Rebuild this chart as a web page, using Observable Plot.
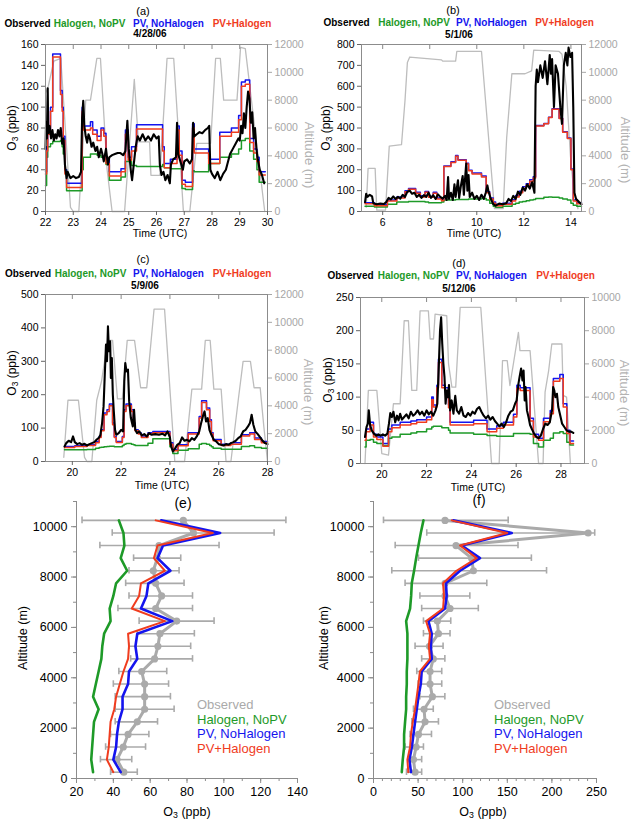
<!DOCTYPE html>
<html><head><meta charset="utf-8">
<script src="https://cdn.jsdelivr.net/npm/d3@7"></script>
<script src="https://cdn.jsdelivr.net/npm/@observablehq/plot@0.6"></script>
<style>
body{margin:0;background:#fff;}
#root{position:relative;width:632px;height:829px;overflow:hidden;font-family:"Liberation Sans",Arial,sans-serif;background:#fff;}
.abs{position:absolute;white-space:nowrap;line-height:1;}
.box{position:absolute;}
sub{font-size:70%;vertical-align:-0.25em;line-height:0;}
</style></head><body><div id="root"></div>
<script>
// ---------- legend / labels ----------
const seriesNames = ["Observed", "Halogen, NoPV", "PV, NoHalogen", "PV+Halogen"];
const dates = ["4/28/06", "5/1/06", "5/9/06", "5/12/06"];

// ---------- panel (a) 4/28/06 ----------
const aAltT = [22.0, 22.1, 22.3, 22.55, 22.9, 23.0, 23.2, 23.45, 23.62, 23.85, 23.98, 24.22, 24.4, 24.85, 25.2, 25.35, 25.75, 25.8, 26.12, 26.38, 26.62, 26.97, 27.2, 27.45, 27.95, 28.13, 28.3, 28.42, 28.9, 29.03, 29.2, 29.9];
const aAlt = [8500, 9000, 10800, 11000, 300, 0, 0, 8000, 8000, 11000, 11000, 3000, 0, 0, 9500, 5000, 5000, 2600, 2600, 11000, 11000, 0, 0, 4900, 4900, 11000, 11000, 8000, 8000, 11800, 11700, 0];
const aModT = [22.00, 22.04, 22.08, 22.18, 22.26, 22.54, 22.60, 22.64, 22.70, 22.76, 23.32, 23.36, 23.62, 23.70, 23.86, 24.00, 24.10, 24.18, 24.30, 24.72, 24.88, 24.98, 25.10, 25.28, 26.22, 26.28, 26.50, 26.74, 26.82, 26.92, 27.04, 27.30, 27.36, 27.88, 28.28, 28.70, 28.96, 29.06, 29.20, 29.36, 29.50, 29.62, 29.70, 29.92];
const aGreen = [25, 52, 62, 65, 67, 68, 62, 55, 40, 20, 40, 52, 55, 55, 54, 52, 50, 45, 30, 33, 48, 48, 44, 43, 45, 42, 41, 41, 41, 22, 21, 39, 38, 46, 52, 55, 60, 68, 70, 58, 50, 40, 28, 28];
const aBlue = [38, 62, 78, 100, 151, 116, 100, 72, 40, 27, 100, 82, 86, 78, 72, 80, 75, 50, 38, 41, 78, 52, 62, 83, 62, 46, 50, 82, 58, 30, 28, 84, 60, 50, 76, 80, 92, 124, 126, 70, 60, 52, 38, 38];
const aRed = [36, 58, 74, 96, 148, 112, 96, 68, 36, 23, 96, 78, 80, 74, 68, 78, 72, 46, 34, 38, 74, 49, 58, 79, 58, 42, 46, 78, 54, 26, 24, 80, 56, 46, 72, 76, 88, 120, 122, 66, 56, 48, 35, 35];
const aObsT = [22.00, 22.02, 22.05, 22.08, 22.10, 22.15, 22.20, 22.25, 22.30, 22.35, 22.40, 22.45, 22.50, 22.55, 22.60, 22.65, 22.70, 22.76, 22.80, 22.90, 23.00, 23.10, 23.20, 23.28, 23.32, 23.36, 23.40, 23.45, 23.50, 23.55, 23.60, 23.66, 23.72, 23.80, 23.86, 23.92, 24.00, 24.05, 24.10, 24.18, 24.25, 24.30, 24.40, 24.50, 24.60, 24.70, 24.80, 24.88, 24.95, 25.00, 25.08, 25.12, 25.18, 25.25, 25.32, 25.40, 25.50, 25.60, 25.70, 25.80, 25.90, 26.00, 26.08, 26.12, 26.18, 26.25, 26.32, 26.40, 26.48, 26.52, 26.60, 26.70, 26.74, 26.78, 26.86, 26.95, 27.00, 27.10, 27.20, 27.28, 27.32, 27.36, 27.45, 27.55, 27.65, 27.75, 27.85, 27.90, 27.94, 28.00, 28.10, 28.20, 28.30, 28.40, 28.50, 28.55, 28.65, 28.75, 28.85, 28.95, 29.00, 29.05, 29.10, 29.15, 29.20, 29.25, 29.30, 29.35, 29.40, 29.45, 29.50, 29.55, 29.60, 29.65, 29.72, 29.80, 29.88];
const aObs = [60, 85, 70, 118, 75, 82, 70, 78, 68, 74, 70, 78, 72, 80, 65, 70, 45, 32, 38, 32, 34, 32, 33, 38, 90, 106, 82, 72, 66, 74, 70, 62, 66, 58, 62, 52, 60, 55, 48, 60, 45, 52, 54, 55, 56, 56, 54, 58, 87, 60, 38, 30, 45, 62, 72, 68, 74, 68, 72, 68, 74, 70, 72, 45, 35, 38, 30, 35, 27, 45, 50, 52, 85, 55, 48, 40, 48, 50, 46, 50, 85, 72, 74, 76, 75, 78, 80, 82, 40, 36, 32, 38, 30, 36, 40, 45, 55, 60, 65, 70, 68, 82, 75, 94, 80, 100, 115, 108, 85, 95, 70, 80, 60, 50, 40, 35, 27];

// ---------- panel (b) 5/1/06 ----------
const bAltT = [5.3, 5.38, 5.68, 5.75, 6.12, 6.28, 6.8, 6.95, 7.05, 7.15, 8.5, 8.55, 9.1, 9.15, 10.2, 10.75, 11.12, 11.27, 11.49, 12.05, 12.33, 12.42, 13.5, 13.62, 13.8, 13.98, 14.12, 14.3];
const bAlt = [300, 3100, 3100, 100, 100, 4700, 4800, 8000, 10700, 11100, 10900, 10800, 10800, 11500, 11500, 200, 200, 5300, 9900, 9900, 10100, 11600, 11500, 11300, 9000, 4000, 1500, 200];
const bModT = [5.25, 5.65, 6.2, 6.6, 6.95, 7.1, 7.4, 7.6, 7.8, 7.95, 8.15, 8.3, 8.5, 8.6, 8.9, 9.1, 9.2, 9.55, 9.65, 9.8, 10.2, 10.4, 10.55, 10.7, 10.8, 11.1, 11.5, 11.65, 11.8, 11.95, 12.1, 12.25, 12.4, 12.5, 12.85, 13.05, 13.2, 13.5, 13.65, 13.85, 14.0, 14.1, 14.25, 14.45];
const bGreen = [25, 22, 35, 45, 45, 48, 48, 48, 45, 42, 42, 42, 45, 55, 55, 58, 58, 58, 60, 60, 62, 55, 40, 25, 20, 25, 35, 40, 45, 48, 52, 55, 58, 62, 68, 70, 68, 65, 60, 55, 40, 30, 25, 25];
const bBlue = [42, 32, 55, 70, 100, 110, 92, 75, 96, 72, 92, 65, 57, 218, 238, 268, 248, 231, 198, 184, 170, 95, 65, 45, 33, 40, 56, 77, 97, 118, 133, 152, 166, 412, 422, 452, 492, 447, 382, 352, 204, 55, 42, 42];
const bRed = [37, 27, 50, 65, 95, 106, 88, 70, 92, 68, 88, 60, 52, 215, 235, 265, 245, 228, 195, 180, 165, 90, 60, 40, 28, 35, 50, 70, 90, 110, 125, 145, 160, 410, 420, 450, 490, 445, 380, 350, 200, 50, 37, 37];
const bObsT = [5.25, 5.3, 5.35, 5.45, 5.55, 5.6, 5.75, 5.9, 6.05, 6.15, 6.25, 6.35, 6.45, 6.55, 6.65, 6.75, 6.85, 6.95, 7.05, 7.15, 7.25, 7.35, 7.45, 7.55, 7.65, 7.75, 7.85, 7.95, 8.05, 8.15, 8.25, 8.35, 8.45, 8.55, 8.65, 8.72, 8.78, 8.82, 8.9, 8.98, 9.05, 9.1, 9.2, 9.25, 9.32, 9.4, 9.45, 9.55, 9.6, 9.65, 9.7, 9.8, 9.9, 10.0, 10.1, 10.2, 10.3, 10.38, 10.45, 10.5, 10.6, 10.7, 10.8, 10.95, 11.1, 11.25, 11.35, 11.45, 11.55, 11.65, 11.75, 11.85, 11.95, 12.05, 12.15, 12.25, 12.35, 12.45, 12.5, 12.55, 12.6, 12.7, 12.8, 12.9, 13.0, 13.1, 13.15, 13.2, 13.28, 13.35, 13.45, 13.55, 13.62, 13.7, 13.78, 13.85, 13.9, 13.98, 14.05, 14.1, 14.15, 14.22, 14.35, 14.45];
const bObs = [45, 85, 70, 80, 72, 40, 35, 38, 36, 45, 65, 58, 72, 60, 70, 62, 80, 70, 95, 100, 85, 90, 70, 80, 65, 78, 70, 90, 65, 78, 60, 82, 70, 62, 75, 55, 165, 60, 90, 55, 130, 70, 150, 65, 120, 170, 80, 230, 100, 175, 70, 90, 60, 75, 55, 80, 60, 90, 125, 95, 60, 35, 28, 38, 35, 40, 60, 50, 75, 60, 95, 80, 115, 100, 130, 110, 140, 90, 600, 680, 620, 700, 640, 720, 610, 750, 660, 730, 500, 700, 660, 500, 420, 700, 760, 700, 785, 740, 760, 500, 90, 60, 45, 35];

// ---------- panel (c) 5/9/06 ----------
const cAltT = [19.65, 19.82, 20.25, 20.5, 20.6, 20.8, 21.0, 21.2, 21.45, 21.65, 21.85, 22.05, 22.25, 22.55, 22.8, 23.05, 23.35, 23.78, 24.2, 24.6, 24.9, 25.3, 25.45, 25.65, 25.8, 26.1, 26.3, 26.5, 26.8, 27.0, 27.3, 27.45, 27.7, 27.85, 28.0];
const cAlt = [300, 4400, 4400, 300, 0, 0, 4400, 5800, 8700, 8700, 4500, 4500, 8700, 8700, 5300, 5300, 10950, 10950, 0, 0, 5200, 5200, 8700, 8700, 5200, 5200, 0, 0, 4400, 7200, 7200, 5300, 5300, 2500, 0];
const cModT = [19.68, 20.1, 20.6, 20.95, 21.1, 21.18, 21.3, 21.42, 21.52, 21.65, 21.72, 21.8, 22.05, 22.12, 22.2, 22.42, 22.5, 22.57, 22.7, 22.83, 23.1, 23.3, 24.0, 24.12, 24.33, 24.75, 25.2, 25.3, 25.5, 25.63, 25.7, 25.77, 26.1, 26.5, 26.93, 27.27, 27.47, 27.75, 28.0];
const cGreen = [35, 35, 36, 40, 42, 43, 44, 45, 46, 46, 44, 44, 48, 52, 54, 52, 50, 48, 48, 48, 55, 68, 44, 24, 34, 38, 52, 54, 52, 48, 44, 40, 37, 37, 45, 47, 42, 40, 40];
const cBlue = [45, 47, 50, 60, 75, 95, 145, 155, 172, 115, 75, 60, 75, 155, 172, 155, 115, 95, 85, 76, 86, 90, 56, 36, 50, 86, 135, 182, 160, 125, 86, 66, 52, 56, 80, 86, 70, 60, 60];
const cRed = [42, 45, 48, 56, 72, 92, 140, 150, 167, 110, 72, 57, 72, 150, 167, 150, 110, 92, 82, 72, 82, 86, 52, 32, 47, 82, 130, 177, 155, 120, 82, 62, 48, 52, 76, 82, 66, 56, 56];
const cObsT = [19.68, 19.75, 19.85, 19.95, 20.03, 20.1, 20.2, 20.3, 20.4, 20.5, 20.6, 20.7, 20.8, 20.9, 21.0, 21.1, 21.15, 21.22, 21.28, 21.33, 21.38, 21.42, 21.46, 21.5, 21.55, 21.58, 21.62, 21.66, 21.7, 21.75, 21.8, 21.9, 22.0, 22.08, 22.13, 22.17, 22.22, 22.28, 22.33, 22.4, 22.48, 22.53, 22.58, 22.65, 22.75, 22.85, 22.95, 23.05, 23.15, 23.25, 23.4, 23.55, 23.7, 23.8, 23.9, 24.0, 24.05, 24.12, 24.22, 24.3, 24.4, 24.5, 24.6, 24.7, 24.8, 24.9, 25.0, 25.1, 25.2, 25.28, 25.35, 25.42, 25.48, 25.55, 25.62, 25.7, 25.8, 25.9, 26.0, 26.1, 26.2, 26.3, 26.4, 26.5, 26.6, 26.7, 26.8, 26.9, 27.0, 27.1, 27.2, 27.28, 27.35, 27.42, 27.5, 27.6, 27.7, 27.8, 27.9, 28.0];
const cObs = [45, 55, 62, 58, 75, 58, 52, 55, 50, 53, 48, 52, 55, 58, 66, 72, 80, 115, 165, 260, 350, 300, 405, 330, 360, 250, 310, 200, 150, 95, 80, 85, 95, 90, 240, 295, 270, 275, 180, 130, 105, 155, 95, 85, 90, 78, 82, 75, 85, 80, 82, 80, 83, 78, 90, 72, 45, 30, 40, 50, 55, 72, 62, 65, 60, 70, 65, 75, 90, 115, 135, 150, 120, 130, 95, 80, 65, 60, 52, 50, 48, 52, 50, 55, 58, 62, 70, 75, 90, 95, 105, 115, 140, 110, 90, 82, 72, 62, 55, 52];

// ---------- panel (d) 5/12/06 ----------
const dAltT = [19.25, 19.4, 19.78, 20.0, 20.3, 20.52, 20.82, 21.0, 21.19, 21.34, 21.56, 21.71, 22.08, 22.16, 22.31, 22.38, 22.9, 22.98, 23.13, 23.3, 23.5, 24.42, 24.9, 25.24, 25.39, 25.6, 25.72, 26.1, 26.17, 26.62, 27.0, 27.2, 27.29, 27.45, 27.59, 28.04, 28.1, 28.25, 28.42];
const dAlt = [0, 4400, 4400, 600, 500, 3600, 3600, 8600, 8600, 4400, 4400, 9200, 9200, 7500, 7500, 9000, 8900, 6000, 4600, 4600, 9400, 9400, 0, 0, 6200, 6200, 4700, 7900, 6800, 6800, 0, 0, 4300, 5600, 7200, 7200, 4100, 4000, 0];
const dModT = [19.25, 19.3, 19.48, 19.63, 19.78, 20.05, 20.3, 20.45, 20.82, 21.3, 21.56, 22.0, 22.23, 22.3, 22.46, 22.53, 22.68, 22.83, 22.98, 23.05, 24.1, 24.7, 25.13, 25.43, 25.88, 26.03, 26.18, 26.62, 26.77, 27.0, 27.22, 27.52, 27.66, 27.95, 28.1, 28.26, 28.4, 28.56];
const dGreen = [25, 35, 36, 32, 30, 27, 38, 40, 44, 46, 48, 52, 55, 56, 56, 56, 54, 54, 50, 46, 44, 42, 41, 41, 45, 45, 45, 44, 30, 25, 35, 38, 46, 48, 45, 32, 28, 28];
const dBlue = [40, 52, 62, 44, 40, 30, 52, 58, 62, 64, 66, 70, 100, 88, 118, 157, 118, 114, 88, 62, 65, 52, 57, 62, 74, 118, 114, 68, 44, 38, 68, 80, 128, 134, 90, 50, 34, 34];
const dRed = [35, 48, 58, 40, 36, 26, 48, 54, 58, 60, 62, 66, 96, 85, 114, 152, 114, 110, 84, 58, 60, 48, 53, 58, 70, 113, 110, 64, 40, 35, 63, 75, 124, 128, 85, 45, 30, 30];
const dObsT = [19.25, 19.32, 19.38, 19.42, 19.48, 19.55, 19.65, 19.75, 19.85, 19.95, 20.05, 20.15, 20.25, 20.32, 20.38, 20.45, 20.52, 20.6, 20.68, 20.75, 20.82, 20.9, 21.0, 21.1, 21.2, 21.3, 21.4, 21.5, 21.6, 21.7, 21.8, 21.9, 22.0, 22.1, 22.2, 22.3, 22.4, 22.48, 22.55, 22.6, 22.65, 22.7, 22.75, 22.8, 22.85, 22.9, 22.95, 23.0, 23.05, 23.12, 23.2, 23.28, 23.35, 23.45, 23.55, 23.65, 23.75, 23.85, 23.95, 24.05, 24.15, 24.25, 24.35, 24.45, 24.55, 24.65, 24.75, 24.85, 24.95, 25.05, 25.15, 25.25, 25.35, 25.45, 25.55, 25.65, 25.75, 25.85, 25.95, 26.02, 26.1, 26.15, 26.22, 26.28, 26.33, 26.38, 26.42, 26.48, 26.55, 26.62, 26.7, 26.8, 26.9, 27.0, 27.1, 27.2, 27.3, 27.4, 27.5, 27.6, 27.65, 27.7, 27.75, 27.82, 27.88, 27.95, 28.05, 28.15, 28.25, 28.35, 28.45, 28.55];
const dObs = [40, 55, 60, 80, 58, 50, 45, 42, 44, 42, 44, 42, 45, 60, 76, 70, 78, 62, 72, 65, 75, 66, 70, 74, 68, 78, 72, 75, 80, 74, 78, 72, 80, 74, 78, 72, 80, 90, 150, 200, 220, 180, 150, 130, 90, 110, 100, 118, 80, 95, 75, 102, 80, 75, 85, 72, 70, 76, 72, 78, 75, 82, 85, 78, 72, 68, 72, 66, 70, 64, 60, 56, 60, 55, 62, 72, 78, 80, 90, 95, 120, 130, 143, 125, 140, 95, 115, 80, 70, 58, 52, 45, 40, 38, 42, 52, 60, 58, 62, 80, 115, 110, 100, 105, 85, 75, 60, 55, 50, 48, 48, 46];

// ---------- profiles (e) and (f) ----------
const levels = [250, 750, 1250, 1750, 2250, 2750, 3250, 3750, 4250, 4750, 5250, 5750, 6250, 6750, 7250, 7750, 8250, 8750, 9250, 9750, 10250];
const eObs = [45.7, 42, 45.4, 48, 53, 57, 57, 57, 55.4, 62.4, 64.2, 65.3, 74.4, 63, 66.2, 63, 61.7, 63.9, 64.8, 83.5, 78];
const eLo = [38.5, 33, 35.8, 38.5, 41, 41, 41, 40, 43, 49.4, 48.5, 53, 54, 42.5, 48.5, 46.7, 48.5, 51, 32.7, 39.4, 23];
const eHi = [53, 50, 57.5, 59.3, 64, 73, 71, 70, 69, 83, 82, 84, 94.7, 83, 83, 78.4, 75.7, 76.6, 97.4, 127.3, 133.7];
const eGreen = [29, 28, 28.5, 29, 29.5, 32, 29, 30.5, 32, 33.5, 34, 35, 38.5, 38, 40, 41.5, 47.5, 44, 46, 45.5, 43];
const eBlue = [44, 40, 41.5, 42, 43, 45, 45, 48, 48.5, 53, 52, 53, 72, 55, 58, 59, 71, 64, 67, 98, 66];
const eRed = [40, 36.5, 37.5, 38, 38.5, 40.5, 41.5, 43.5, 45.5, 48, 48.5, 48, 68, 50, 54, 55, 68, 62, 64, 94, 63];
const fObs = [46.6, 44.8, 47.8, 50.4, 57.8, 56.7, 66, 63.4, 63.4, 67, 62.7, 72.8, 71.6, 85.8, 80.2, 80.2, 112, 110, 92.5, 240.6, 80.2];
const fLo = [37, 39, 35.4, 41, 43, 44.8, 52, 50, 48.5, 54, 46.6, 56, 56, 54, 52, 35.4, 20.5, 50.4, 24.3, 59.7, 11.2];
const fHi = [54, 54, 56, 65, 72.8, 67, 80, 76.5, 76.5, 80, 78, 85.8, 86.6, 117.5, 108, 127, 194, 177, 162, 248, 151];
const fGreen = [31.7, 32.8, 34.3, 34.3, 35.4, 36.6, 36.6, 37.3, 37.3, 38, 38, 38, 36.6, 41, 42.2, 42.9, 45.5, 47.8, 50.4, 53, 56];
const fBlue = [42, 40.3, 43, 44.8, 46.6, 48.5, 50.4, 53, 54, 65.3, 64.2, 65.3, 61.6, 80.2, 82, 81.3, 97, 119.4, 98.9, 155, 89.5];
const fRed = [39, 38, 41, 42, 44, 46.6, 48.5, 50.4, 52, 63.4, 62, 63.4, 59, 78, 79, 78, 93, 115.7, 97, 150, 87.7];

// ---------- styling ----------
const FONT = '"Liberation Sans", Arial, sans-serif';
const BLACK = "#000", GREEN = "#1e9a28", BLUE = "#1414ee", RED = "#f03c1e";
const ALTGRAY = "#bdbdbd", OBSGRAY = "#aaaaaa";
const seriesColors = [BLACK, GREEN, BLUE, RED];
const root = document.getElementById("root");

function place(node, x, y) {
  const d = document.createElement("div");
  d.className = "box"; d.style.left = x + "px"; d.style.top = y + "px";
  d.appendChild(node); root.appendChild(d);
}
function txt(html, x, y, o = {}) {
  const d = document.createElement("div");
  d.className = "abs";
  d.innerHTML = html;
  d.style.left = x + "px"; d.style.top = y + "px";
  d.style.fontSize = (o.size || 11) + "px";
  if (o.bold) d.style.fontWeight = "bold";
  d.style.color = o.color || "#000";
  const rot = o.rot ? ` rotate(${o.rot}deg)` : "";
  d.style.transform = (o.start ? "translate(0,-50%)" : "translate(-50%,-50%)") + rot;
  root.appendChild(d);
}

function timePanel(p) {
  const k = p.yMax / p.altMax;
  const alt = p.altT.map((t, i) => ({t, a: p.alt[i]}));
  const mod = p.modT.map((t, i) => ({t, g: p.green[i], b: p.blue[i], r: p.red[i]}));
  const obs = p.obsT.map((t, i) => ({t, v: p.obs[i]}));
  return Plot.plot({
    width: 316, height: p.h,
    marginLeft: p.ml, marginRight: p.mr, marginTop: p.mt, marginBottom: p.mb,
    x: {domain: p.xDomain},
    y: {domain: [0, p.yMax]},
    style: {background: "none", overflow: "visible", fontFamily: FONT, fontSize: "10.5px", color: "#000"},
    marks: [
      Plot.line(alt, {x: "t", y: d => d.a * k, stroke: ALTGRAY, strokeWidth: 1.3}),
      Plot.line(mod, {x: "t", y: "g", stroke: GREEN, strokeWidth: 1.5, curve: "step-after"}),
      Plot.line(mod, {x: "t", y: "b", stroke: BLUE, strokeWidth: 1.5, curve: "step-after"}),
      Plot.line(mod, {x: "t", y: "r", stroke: RED, strokeWidth: 1.5, curve: "step-after"}),
      Plot.line(obs, {x: "t", y: "v", stroke: BLACK, strokeWidth: 2.1}),
      Plot.frame({stroke: "#8c8c8c"}),
      Plot.axisX(p.xTicks, {anchor: "bottom", tickSize: 4, tickPadding: 3, label: null, stroke: "#666"}),
      Plot.axisX(p.xTicks, {anchor: "top", tickSize: -4, tickFormat: () => "", label: null, stroke: "#888"}),
      Plot.axisY(p.yTicks, {anchor: "left", tickSize: 4, tickPadding: 3, label: null, stroke: "#666"}),
      Plot.axisY(p.altTicks.map(v => v * k), {anchor: "right", tickSize: 4, tickPadding: 3, label: null,
        color: "#a6a6a6", tickFormat: v => String(Math.round(v / k))})
    ]
  });
}

function profPanel(p) {
  const rows = levels.map((a, i) => ({a, o: p.obs[i], lo: p.lo[i], hi: p.hi[i], g: p.green[i], b: p.blue[i], r: p.red[i]}));
  return Plot.plot({
    width: 316, height: 359,
    marginLeft: p.ml, marginRight: p.mr, marginTop: 31, marginBottom: 51,
    x: {domain: p.xDomain},
    y: {domain: [0, 11000]},
    style: {background: "none", overflow: "visible", fontFamily: FONT, fontSize: "12.5px", color: "#000"},
    marks: [
      Plot.ruleY([0], {stroke: "#8c8c8c"}),
      Plot.ruleX([p.xDomain[0]], {stroke: "#8c8c8c"}),
      Plot.axisX(p.xMinor, {tickSize: 3, tickFormat: () => "", label: null, stroke: "#8c8c8c"}),
      Plot.axisX(p.xTicks, {tickSize: 5, tickPadding: 4, label: null, stroke: "#8c8c8c", fill: "#000"}),
      Plot.axisY(d3.range(0, 11001, 1000), {tickSize: 3, tickFormat: () => "", label: null, stroke: "#8c8c8c"}),
      Plot.axisY(d3.range(0, 10001, 2000), {tickSize: 5, tickPadding: 4, label: null, stroke: "#8c8c8c", fill: "#000", tickFormat: v => String(v)}),
      Plot.link(rows, {x1: "lo", x2: "hi", y1: "a", y2: "a", stroke: OBSGRAY, strokeWidth: 1.6}),
      Plot.ruleX(rows, {x: "lo", y1: d => d.a - 130, y2: d => d.a + 130, stroke: OBSGRAY, strokeWidth: 1.6}),
      Plot.ruleX(rows, {x: "hi", y1: d => d.a - 130, y2: d => d.a + 130, stroke: OBSGRAY, strokeWidth: 1.6}),
      Plot.line(rows, {x: "o", y: "a", stroke: OBSGRAY, strokeWidth: 3}),
      Plot.dot(rows, {x: "o", y: "a", r: 3.6, fill: OBSGRAY}),
      Plot.line(rows, {x: "g", y: "a", stroke: GREEN, strokeWidth: 2.6}),
      Plot.line(rows, {x: "b", y: "a", stroke: BLUE, strokeWidth: 2.6}),
      Plot.line(rows, {x: "r", y: "a", stroke: RED, strokeWidth: 2})
    ]
  });
}

// ---------- build panels ----------
place(timePanel({h: 240, ml: 45, mr: 49, mt: 44, mb: 29, xDomain: [22, 30], yMax: 160, altMax: 12000,
  xTicks: d3.range(22, 31), yTicks: d3.range(0, 161, 20), altTicks: d3.range(0, 12001, 2000),
  altT: aAltT, alt: aAlt, modT: aModT, green: aGreen, blue: aBlue, red: aRed, obsT: aObsT, obs: aObs}), 0, 0);
place(timePanel({h: 240, ml: 45, mr: 51, mt: 44, mb: 29, xDomain: [5.1, 14.45], yMax: 800, altMax: 12000,
  xTicks: [6, 8, 10, 12, 14], yTicks: d3.range(0, 801, 100), altTicks: d3.range(0, 12001, 2000),
  altT: bAltT, alt: bAlt, modT: bModT, green: bGreen, blue: bBlue, red: bRed, obsT: bObsT, obs: bObs}), 316, 0);
place(timePanel({h: 250, ml: 45, mr: 49, mt: 54, mb: 29, xDomain: [18.9, 28], yMax: 500, altMax: 12000,
  xTicks: [20, 22, 24, 26, 28], yTicks: d3.range(0, 501, 100), altTicks: d3.range(0, 12001, 2000),
  altT: cAltT, alt: cAlt, modT: cModT, green: cGreen, blue: cBlue, red: cRed, obsT: cObsT, obs: cObs}), 0, 240);
place(timePanel({h: 250, ml: 44, mr: 48, mt: 57, mb: 27, xDomain: [19.05, 29.05], yMax: 250, altMax: 10000,
  xTicks: [20, 22, 24, 26, 28], yTicks: d3.range(0, 251, 50), altTicks: d3.range(0, 10001, 2000),
  altT: dAltT, alt: dAlt, modT: dModT, green: dGreen, blue: dBlue, red: dRed, obsT: dObsT, obs: dObs}), 316, 240);
place(profPanel({ml: 76, mr: 19, xDomain: [20, 140], xTicks: d3.range(20, 141, 20), xMinor: d3.range(20, 141, 10),
  obs: eObs, lo: eLo, hi: eHi, green: eGreen, blue: eBlue, red: eRed}), 0, 470);
place(profPanel({ml: 57, mr: 36, xDomain: [0, 250], xTicks: d3.range(0, 251, 50), xMinor: d3.range(0, 251, 10),
  obs: fObs, lo: fLo, hi: fHi, green: fGreen, blue: fBlue, red: fRed}), 316, 470);

// ---------- titles, legends, axis labels ----------
const tops = [
  {tag: "(a)", tx: 143, ty: 11, ly: 24, lx: [27.5, 89.5, 168.5, 242], dx: 150, dy: 34, date: dates[0],
   time: [160, 233], o3: [12, 128], alt: [309, 155]},
  {tag: "(b)", tx: 453, ty: 10, ly: 23, lx: [346.5, 414, 491.5, 564.5], dx: 459, dy: 35, date: dates[1],
   time: [474, 233], o3: [326, 128], alt: [625, 150]},
  {tag: "(c)", tx: 143, ty: 259, ly: 274, lx: [28, 90.5, 168.5, 242], dx: 145, dy: 286, date: dates[2],
   time: [162, 485], o3: [12, 373], alt: [308, 392]},
  {tag: "(d)", tx: 459, ty: 263, ly: 276, lx: [350.5, 413.5, 491.5, 565.5], dx: 459, dy: 289, date: dates[3],
   time: [478, 487], o3: [328, 380], alt: [624, 393]}
];
for (const t of tops) {
  txt(t.tag, t.tx, t.ty, {size: 11});
  seriesNames.forEach((n, i) => txt(n, t.lx[i], t.ly, {size: 10, bold: true, color: seriesColors[i]}));
  txt(t.date, t.dx, t.dy, {size: 10, bold: true});
  txt("Time (UTC)", t.time[0], t.time[1], {size: 10.5});
  txt("O<sub>3</sub> (ppb)", t.o3[0], t.o3[1], {size: 12, rot: -90});
  txt("Altitude (m)", t.alt[0], t.alt[1], {size: 13, rot: 90, color: "#b3b3b3"});
}
const bottoms = [
  {tag: "(e)", tx: 183, ty: 503, alt: [23, 638], o3: [187, 812], lx: 197},
  {tag: "(f)", tx: 479, ty: 500, alt: [324, 638], o3: [483, 812], lx: 494}
];
const profColors = [OBSGRAY, GREEN, BLUE, RED];
for (const b of bottoms) {
  txt(b.tag, b.tx, b.ty, {size: 14});
  txt("Altitude (m)", b.alt[0], b.alt[1], {size: 12.5, rot: -90});
  txt("O<sub>3</sub> (ppb)", b.o3[0], b.o3[1], {size: 12.5});
  seriesNames.forEach((n, i) => txt(n, b.lx, 704 + i * 14.5, {size: 13, color: profColors[i], start: true}));
}
</script></body></html>
